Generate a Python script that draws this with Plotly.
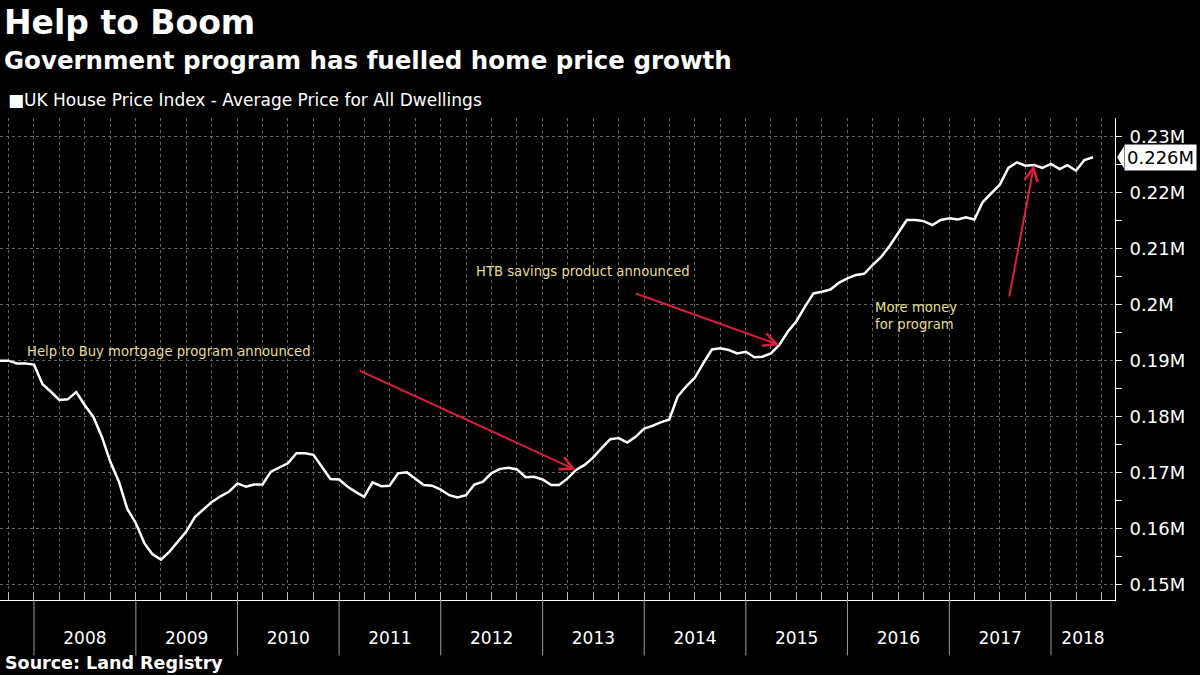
import pandas as pd
import plotly.graph_objects as go

# ---- data (UK HPI average price, £ thousands, monthly from Sep 2007) ----
start_month = "2007-09-01"
price_k = [
    190.0, 190.0, 189.5, 189.5, 189.3, 185.8, 184.5, 183.0, 183.1, 184.4,
    182.1, 180.0, 176.4, 172.0, 168.4, 163.6, 161.0, 157.4, 155.5, 154.5,
    155.9, 157.7, 159.5, 162.1, 163.5, 164.8, 165.8, 166.6, 168.1, 167.5,
    167.9, 167.9, 170.2, 170.9, 171.7, 173.5, 173.5, 173.2, 171.1, 168.9,
    168.8, 167.5, 166.6, 165.7, 168.3, 167.6, 167.7, 169.9, 170.1, 169.0,
    167.8, 167.7, 167.0, 166.0, 165.6, 166.0, 167.9, 168.4, 169.9, 170.7,
    170.9, 170.6, 169.2, 169.3, 168.8, 167.8, 167.8, 169.0, 170.5, 171.4,
    172.7, 174.4, 176.0, 176.2, 175.4, 176.4, 177.9, 178.4, 179.0, 179.5,
    183.6, 185.4, 186.9, 189.5, 192.0, 192.2, 191.9, 191.3, 191.6, 190.6,
    190.7, 191.3, 192.8, 195.2, 197.0, 199.6, 202.0, 202.3, 202.7, 203.9,
    204.7, 205.3, 205.5, 207.1, 208.5, 210.5, 212.8, 215.1, 215.1, 214.9,
    214.2, 215.1, 215.4, 215.2, 215.6, 215.2, 218.3, 219.8, 221.4, 224.4,
    225.4, 224.8, 224.9, 224.4, 225.1, 224.2, 224.9, 223.9, 225.8, 226.3,
]
years = list(range(2008, 2019))
y_tick_values = [150000, 160000, 170000, 180000, 190000, 200000, 210000, 220000, 230000]
y_tick_labels = ["0.15M", "0.16M", "0.17M", "0.18M", "0.19M", "0.2M", "0.21M", "0.22M", "0.23M"]

series_name = "UK House Price Index - Average Price for All Dwellings"
events = [
    # (text, arrow-tip month index)
    ("Help to Buy mortgage program announced", 68),
    ("HTB savings product announced", 92),
    ("More money<br>for program", 122),
]

# ---- derived ----
dates = pd.date_range(start_month, periods=len(price_k), freq="MS")
prices = [v * 1000 for v in price_k]
x_start = pd.Timestamp(start_month)
x_end = pd.Timestamp("2018-08-19")
y_min, y_max = 147300, 233300

year_starts = [pd.Timestamp(f"{y}-01-01") for y in years]
year_mids = []
for y in years:
    a = pd.Timestamp(f"{y}-01-01")
    b = min(pd.Timestamp(f"{y + 1}-01-01"), x_end)
    year_mids.append(a + (b - a) / 2)
quarters = list(pd.date_range("2007-10-01", x_end, freq="QS"))

FONT = "DejaVu Sans"
YELLOW = "#e6df8c"
RED = "#dc1e3c"

fig = go.Figure()
fig.add_trace(go.Scatter(
    x=dates, y=prices, mode="lines", name=series_name,
    line=dict(color="white", width=2.5), showlegend=False,
    hovertemplate="%{x|%b %Y}: %{y:,.0f}<extra></extra>",
))

fig.update_layout(
    width=1200, height=675,
    paper_bgcolor="black", plot_bgcolor="black",
    margin=dict(l=0, r=85, t=118, b=75),
    font=dict(family=FONT, color="white"),
    showlegend=False,
    xaxis=dict(
        range=[x_start, x_end],
        tickmode="array", tickvals=year_mids, ticktext=[str(y) for y in years],
        ticks="outside", ticklen=23, tickcolor="rgba(0,0,0,0)",
        tickfont=dict(size=17, color="white", family=FONT),
        showgrid=False, zeroline=False,
        showline=True, linecolor="white", linewidth=1,
        minor=dict(tickmode="array", tickvals=quarters, ticks="inside", ticklen=8,
                   tickcolor="#bbbbbb", showgrid=True, gridcolor="#666666",
                   griddash="dot", gridwidth=1),
    ),
    yaxis=dict(
        side="right", range=[y_min, y_max],
        tickmode="array", tickvals=y_tick_values, ticktext=y_tick_labels,
        ticks="outside", ticklen=6, tickcolor="white", ticklabelstandoff=4,
        tickfont=dict(size=18, color="white", family=FONT),
        showgrid=True, gridcolor="#666666", griddash="dot", gridwidth=1,
        zeroline=False, showline=True, linecolor="white", linewidth=1,
        minor=dict(dtick=5000, tick0=0, ticks="outside", ticklen=6, tickcolor="white",
                   showgrid=False),
    ),
)

# year separators below the axis
for ys in year_starts:
    fig.add_shape(type="line", xref="x", yref="paper", x0=ys, x1=ys, y0=0, y1=-0.115,
                  line=dict(color="#9a9a9a", width=1))

# titles, legend key, source
fig.add_annotation(text="<b>Help to Boom</b>", xref="paper", yref="paper", x=0, y=1.199,
                   xanchor="left", yanchor="middle", showarrow=False, xshift=2,
                   font=dict(size=33, color="white", family=FONT))
fig.add_annotation(text="<b>Government program has fuelled home price growth</b>",
                   xref="paper", yref="paper", x=0, y=1.120, xanchor="left", yanchor="middle",
                   showarrow=False, xshift=2, font=dict(size=24.5, color="white", family=FONT))
fig.add_annotation(text="■" + series_name, xref="paper", yref="paper", x=0, y=1.037,
                   xanchor="left", yanchor="middle", showarrow=False, xshift=6,
                   font=dict(size=17, color="white", family=FONT))
fig.add_annotation(text="<b>Source: Land Registry</b>", xref="paper", yref="paper", x=0, y=-0.131,
                   xanchor="left", yanchor="middle", showarrow=False, xshift=3,
                   font=dict(size=17.5, color="white", family=FONT))

# event labels and arrows
label_pos = [(0.0224, 191600), (0.425, 206000), (0.783, 198000)]
arrow_tail = [(-218, -100), (-145, -52), (-25, 133)]
for (txt, idx), (lx, ly), (ax, ay) in zip(events, label_pos, arrow_tail):
    fig.add_annotation(text=txt, xref="paper", yref="y", x=lx, y=ly, xanchor="left",
                       yanchor="middle", align="left", showarrow=False,
                       font=dict(size=13.2, color=YELLOW, family=FONT))
    fig.add_annotation(text="", xref="x", yref="y", x=dates[idx], y=prices[idx],
                       ax=ax, ay=ay, axref="pixel", ayref="pixel", showarrow=True,
                       arrowhead=5, arrowsize=1.3, arrowwidth=2, arrowcolor=RED)

# last value tag
last = prices[-1]
fig.add_annotation(text=f"{last / 1e6:.3f}M", xref="paper", yref="y", x=1, y=last,
                   xanchor="left", yanchor="middle", xshift=9, showarrow=False,
                   bgcolor="white", borderpad=2, font=dict(size=18, color="black", family=FONT))
py = (last - y_min) / (y_max - y_min)
h = 11 / 482
fig.add_shape(type="path", xref="paper", yref="paper",
              path=f"M {1 + 2 / 1115},{py} L {1 + 9 / 1115},{py + h} L {1 + 9 / 1115},{py - h} Z",
              fillcolor="white", line=dict(width=0))

fig.write_html("out.html", config={"displayModeBar": False},
               post_script="document.body.style.margin='0px';")
